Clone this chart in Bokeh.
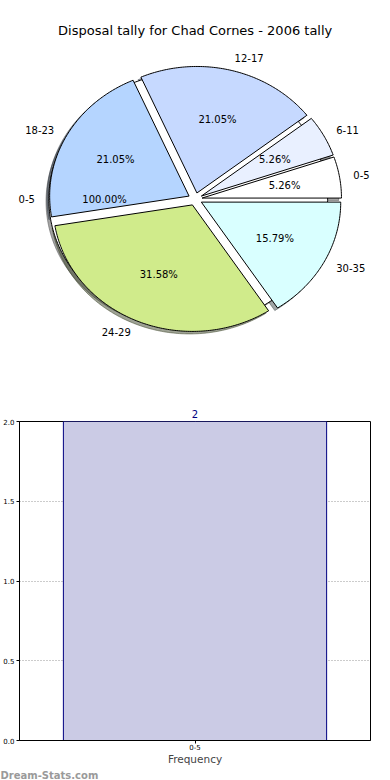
import math
from bokeh.plotting import figure
from bokeh.models import (ColumnDataSource, Range1d, FactorRange, Label, Title,
                          FixedTicker, NumeralTickFormatter)
from bokeh.layouts import column
from bokeh.embed import file_html
from bokeh.resources import INLINE
from bokeh.core.properties import value

# ---------------- data ----------------
title_text = "Disposal tally for Chad Cornes - 2006 tally"
age_groups = ["0-5", "6-11", "12-17", "18-23", "24-29", "30-35"]
tallies = [1, 1, 4, 4, 6, 3]
slice_colors = ["#ffffff", "#e9f0ff", "#c6d9ff", "#b5d5ff", "#d0eb8b", "#d9ffff"]

overlay_groups = ["0-5"]
overlay_tallies = [1]
overlay_colors = ["#ffffff"]

bar_groups = ["0-5"]
bar_freq = [2]
bar_ticks = [0.0, 0.5, 1.0, 1.5, 2.0]
bar_axis_label = "Frequency"
watermark = "Dream-Stats.com"

# ---------------- pie helpers ----------------
EXPLODE = 0.05
SH_DX, SH_DY = -0.02, -0.02


def build_wedges(vals, labels, colors):
    total = float(sum(vals))
    out = []
    a = 0.0
    for v, lab, col in zip(vals, labels, colors):
        t1 = a
        t2 = a + 360.0 * v / total
        a = t2
        mid = math.radians((t1 + t2) / 2.0)
        cx, cy = EXPLODE * math.cos(mid), EXPLODE * math.sin(mid)
        n = max(4, int(abs(t2 - t1) / 0.75) + 1)
        full = abs((t2 - t1) - 360.0) < 1e-9
        xs, ys = ([] if full else [cx]), ([] if full else [cy])
        for k in range(n + 1):
            t = math.radians(t1 + (t2 - t1) * k / n)
            xs.append(cx + math.cos(t))
            ys.append(cy + math.sin(t))
        out.append(dict(xs=xs, ys=ys, mid=mid, cx=cx, cy=cy,
                        frac=v / total, label=lab, color=col))
    return out


def shade(hexcol):
    r = int(hexcol[1:3], 16) * 0.3
    g = int(hexcol[3:5], 16) * 0.3
    b = int(hexcol[5:7], 16) * 0.3
    return "#%02x%02x%02x" % (int(r), int(g), int(b))


over = build_wedges(overlay_tallies, overlay_groups, overlay_colors)
main = build_wedges(tallies, age_groups, slice_colors)

p = figure(width=390, height=386, output_backend="svg", toolbar_location=None,
           x_range=Range1d(-1.3967, 1.4010), y_range=Range1d(-1.4814, 1.5700),
           x_axis_location=None, y_axis_location=None, min_border=0)
p.frame_align = False
p.grid.visible = False
p.outline_line_color = None
p.background_fill_color = "white"

# shadows (all below wedges)
for w in over + main:
    sc = shade(w["color"])
    p.patch([x + SH_DX for x in w["xs"]], [y + SH_DY for y in w["ys"]],
            fill_color=sc, fill_alpha=0.5, line_color=sc, line_alpha=0.5, line_width=1)
# wedges
for w in over + main:
    p.patch(w["xs"], w["ys"], fill_color=w["color"], line_color="black", line_width=1)

# labels
lx, ly, lt, rx_, ry_, rt = [], [], [], [], [], []
px_, py_, pt = [], [], []
for w in over + main:
    xt = w["cx"] + 1.1 * math.cos(w["mid"])
    yt = w["cy"] + 1.1 * math.sin(w["mid"])
    if xt > 0:
        lx.append(xt); ly.append(yt); lt.append(w["label"])
    else:
        rx_.append(xt); ry_.append(yt); rt.append(w["label"])
    px_.append(w["cx"] + 0.6 * math.cos(w["mid"]))
    py_.append(w["cy"] + 0.6 * math.sin(w["mid"]))
    pt.append("%.2f%%" % (100.0 * w["frac"]))

common = dict(text_font_size="10px", text_color="black", text_baseline="middle",
              text_font=value("DejaVu Sans"))
p.text(x=lx, y=ly, text=lt, text_align="left", **common)
p.text(x=rx_, y=ry_, text=rt, text_align="right", **common)
p.text(x=px_, y=py_, text=pt, text_align="center", **common)

p.add_layout(Label(x=0.0, y=1.333, text=title_text, text_align="center",
                   text_baseline="middle", text_font="DejaVu Sans",
                   text_font_size="13px", text_color="black"))

# ---------------- bar chart ----------------
b = figure(width=390, height=394, output_backend="svg", toolbar_location=None,
           x_range=FactorRange(factors=bar_groups), y_range=Range1d(0, 2),
           min_border_left=19, min_border_right=20, min_border_top=35,
           min_border_bottom=40, title=str(bar_freq[0]))
b.frame_align = False
b.title.align = "center"
b.title.text_color = "#000080"
b.title.text_font = "DejaVu Sans"
b.title.text_font_size = "10px"
b.title.text_font_style = "normal"
b.title.standoff = 8

src = ColumnDataSource(dict(g=bar_groups, f=bar_freq))
b.vbar(x="g", top="f", width=0.75, source=src, fill_color="#cbcbe5",
       line_color="#000080", line_width=1)

b.outline_line_color = "black"
b.outline_line_width = 1
b.outline_line_alpha = 1.0
for g in (b.xgrid, b.ygrid):
    g.grid_line_color = "#999999"
    g.grid_line_dash = "1 2"
    g.grid_line_width = 1
b.ygrid.ticker = FixedTicker(ticks=bar_ticks)

b.yaxis.ticker = FixedTicker(ticks=bar_ticks)
b.yaxis.formatter = NumeralTickFormatter(format="0.0")
for ax in (b.xaxis, b.yaxis):
    ax.major_label_text_font = "DejaVu Sans"
    ax.major_label_text_font_size = "7px"
    ax.major_label_text_color = "black"
    ax.major_tick_out = 3
    ax.major_tick_in = 0
    ax.minor_tick_out = 0
    ax.minor_tick_in = 0
    ax.major_label_standoff = 2
    ax.axis_line_color = "black"
b.xaxis.major_label_standoff = 0
b.xaxis.axis_label = bar_axis_label
b.xaxis.axis_label_text_font = "DejaVu Sans"
b.xaxis.axis_label_text_font_size = "10.5px"
b.xaxis.axis_label_text_font_style = "normal"
b.xaxis.axis_label_standoff = 0

b.add_layout(Title(text=watermark, align="left", offset=-19, standoff=0,
                   text_font="DejaVu Sans", text_font_style="bold",
                   text_font_size="10px", text_color="#9a9a9a"), "below")

layout = column(p, b)
open("out.html", "w").write(file_html(layout, INLINE))
